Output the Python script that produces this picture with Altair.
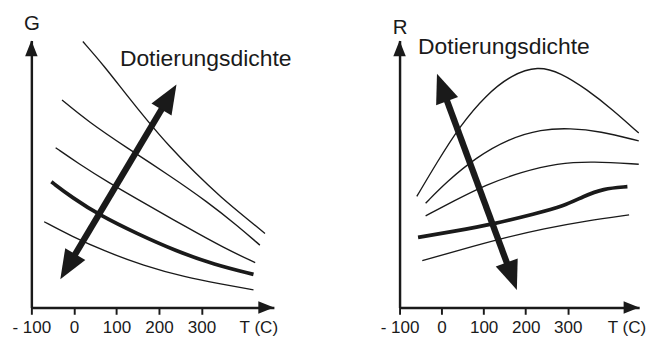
import math
import altair as alt
import pandas as pd

INK = "#1a1a1a"
FONT = "Liberation Sans"

# ---------------- data ----------------
# axis tick values (temperature, degC)
TICKS = [-100, 0, 100, 200, 300]
T_MAX = 470          # end of the temperature arrow
V_MAX = 274          # end of the vertical arrow (arbitrary units)

# Left panel: conductance G, five doping densities (curve 4 drawn bold)
G1_T = [21, 71, 124, 174, 223, 285, 346, 407, 449]
G1_V = [273, 248, 218, 191, 166, 138, 113, 91, 76]
G2_T = [-28, 33, 124, 223, 315, 384, 437]
G2_V = [213, 191, 164, 136, 108, 84, 64]
G3_T = [-43, 10, 82, 170, 262, 353, 426]
G3_V = [164, 148, 128, 106, 83, 61, 46]
G4_T = [-53, -5, 63, 147, 239, 330, 422]
G4_V = [129, 113, 94, 76, 58, 44, 34]
G5_T = [-70, -5, 71, 163, 262, 346, 422]
G5_V = [88, 73, 58, 43, 31, 24, 18]

# Right panel: resistance R, five doping densities (curve 4 drawn bold)
R1_T = [-59, -11, 43, 105, 167, 229, 283, 345, 407, 469]
R1_V = [114, 149, 186, 218, 239, 248, 241, 224, 203, 179]
R2_T = [-38, 12, 82, 159, 237, 306, 376, 469]
R2_V = [107, 129, 154, 173, 183, 184, 181, 171]
R3_T = [-38, 28, 105, 190, 275, 360, 469]
R3_V = [94, 109, 126, 139, 148, 150, 147]
R4_T = [-56, 28, 128, 221, 291, 337, 384, 442]
R4_V = [72, 78, 86, 96, 104, 114, 122, 124]
R5_T = [-46, 43, 144, 244, 345, 446]
R5_V = [48, 59, 71, 81, 89, 95]

# double arrows "Dotierungsdichte": (T, V) of both tips, first = lower tip
G_ARROW_T = [-32, 241]
G_ARROW_V = [29, 229]
R_ARROW_T = [179, -11]
R_ARROW_V = [18, 240]

LABEL = "Dotierungsdichte"
G_LABEL_POS = (108, 248)
R_LABEL_POS = (-56, 260)

# ---------------- helpers ----------------
HEAD = "M0,0L0.4,1L-0.4,1Z"   # arrow head, tip at the origin pointing up


def curves_frame(pairs):
    rows = []
    for i, (ts, vs) in enumerate(pairs, start=1):
        for t, v in zip(ts, vs):
            rows.append({"T": t, "V": v, "curve": f"c{i}"})
    return pd.DataFrame(rows)


def panel(pairs, arrow_t, arrow_v, label_pos, title, title_y, width):
    height = V_MAX
    kx = width / (T_MAX - TICKS[0])
    ky = height / V_MAX
    xs = alt.Scale(domain=[TICKS[0], T_MAX], nice=False, zero=False)
    ys = alt.Scale(domain=[0, V_MAX], nice=False, zero=False)

    df = curves_frame(pairs)
    thin = df[df.curve != "c4"]
    bold = df[df.curve == "c4"]

    x_axis = alt.Axis(
        values=TICKS, grid=False,
        labelExpr="datum.value == -100 ? '- 100' : datum.label",
        labelFlush=False, labelOverlap=False,
        labelFont=FONT, labelFontSize=17.5, labelColor=INK, labelPadding=5,
        domainColor=INK, domainWidth=2.5, tickColor=INK, tickWidth=2, tickSize=7,
        title="T (C)", titleFont=FONT, titleFontSize=17.5, titleFontWeight="normal",
        titleColor=INK, titleAngle=0, titleX=233, titleY=26,
        titleAlign="center", titleBaseline="alphabetic",
    )
    y_axis = alt.Axis(
        grid=False, ticks=False, labels=False,
        domainColor=INK, domainWidth=2.5,
        title=title, titleFont=FONT, titleFontSize=21, titleFontWeight="normal",
        titleColor=INK, titleAngle=0, titleX=0, titleY=title_y,
        titleAlign="center", titleBaseline="alphabetic",
    )

    base_thin = alt.Chart(thin).mark_line(
        color=INK, strokeWidth=1.4, interpolate="basis"
    ).encode(
        x=alt.X("T:Q", scale=xs, axis=x_axis),
        y=alt.Y("V:Q", scale=ys, axis=y_axis),
        detail="curve:N",
    )
    base_bold = alt.Chart(bold).mark_line(
        color=INK, strokeWidth=3.8, interpolate="basis"
    ).encode(x=alt.X("T:Q", scale=xs), y=alt.Y("V:Q", scale=ys))

    # axis arrow heads
    ax_heads = pd.DataFrame({
        "T": [T_MAX, TICKS[0]], "V": [0, V_MAX], "ang": [90, 0]
    })
    axis_heads = alt.Chart(ax_heads).mark_point(
        shape=HEAD, filled=True, color=INK, opacity=1, size=1024, strokeWidth=0
    ).encode(
        x=alt.X("T:Q", scale=xs), y=alt.Y("V:Q", scale=ys),
        angle=alt.Angle("ang:Q", scale=None),
    )

    # double arrow
    t1, t2 = arrow_t
    v1, v2 = arrow_v
    dxp = (t2 - t1) * kx
    dyp = (v2 - v1) * ky
    L = math.hypot(dxp, dyp)
    ux, uy = dxp / L, dyp / L
    cut = 15.0
    shaft = pd.DataFrame({
        "T": [t1 + ux * cut / kx], "V": [v1 + uy * cut / ky],
        "T2": [t2 - ux * cut / kx], "V2": [v2 - uy * cut / ky],
    })
    ang_top = math.degrees(math.atan2(dxp, dyp)) % 360
    ang_bot = (ang_top + 180) % 360
    heads = pd.DataFrame({"T": [t1, t2], "V": [v1, v2], "ang": [ang_bot, ang_top]})

    shaft_mark = alt.Chart(shaft).mark_rule(
        color=INK, strokeWidth=6.5, strokeCap="butt"
    ).encode(
        x=alt.X("T:Q", scale=xs), y=alt.Y("V:Q", scale=ys),
        x2="T2:Q", y2="V2:Q",
    )
    head_mark = alt.Chart(heads).mark_point(
        shape=HEAD, filled=True, color=INK, opacity=1, size=3600, strokeWidth=0
    ).encode(
        x=alt.X("T:Q", scale=xs), y=alt.Y("V:Q", scale=ys),
        angle=alt.Angle("ang:Q", scale=None),
    )

    lab = pd.DataFrame({"T": [label_pos[0]], "V": [label_pos[1]], "txt": [LABEL]})
    text = alt.Chart(lab).mark_text(
        align="left", baseline="alphabetic", font=FONT, fontSize=23.5, color=INK
    ).encode(x=alt.X("T:Q", scale=xs), y=alt.Y("V:Q", scale=ys), text="txt:N")

    return alt.layer(
        base_thin, base_bold, axis_heads, shaft_mark, head_mark, text
    ).properties(width=width, height=height)


left = panel([(G1_T, G1_V), (G2_T, G2_V), (G3_T, G3_V), (G4_T, G4_V), (G5_T, G5_V)],
             G_ARROW_T, G_ARROW_V, G_LABEL_POS, "G", -11, 249)
right = panel([(R1_T, R1_V), (R2_T, R2_V), (R3_T, R3_V), (R4_T, R4_V), (R5_T, R5_V)],
              R_ARROW_T, R_ARROW_V, R_LABEL_POS, "R", -7, 246)

chart = alt.hconcat(left, right, spacing=90).properties(
    padding={"left": 4, "top": 1, "right": 0, "bottom": 0},
    background="white",
).configure_view(stroke=None)

chart.save("out.html", embed_options={"renderer": "svg", "actions": False})
